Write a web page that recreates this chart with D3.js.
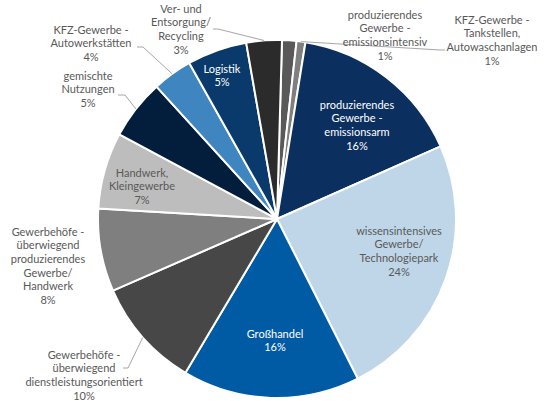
<!DOCTYPE html>
<html>
<head>
<meta charset="utf-8">
<script src="https://cdn.jsdelivr.net/npm/d3@7"></script>
<style>
  body { margin: 0; background: #fff; }
  svg text { font-family: Lato, "Open Sans", sans-serif; font-size: 11px; }
</style>
</head>
<body>
<svg width="555" height="401"></svg>
<script>
// categories, clockwise starting just right of 12 o'clock
var categories = [
  "produzierendes Gewerbe - emissionsintensiv",
  "KFZ-Gewerbe - Tankstellen, Autowaschanlagen",
  "produzierendes Gewerbe - emissionsarm",
  "wissensintensives Gewerbe/ Technologiepark",
  "Großhandel",
  "Gewerbehöfe - überwiegend dienstleistungsorientiert",
  "Gewerbehöfe - überwiegend produzierendes Gewerbe/ Handwerk",
  "Handwerk, Kleingewerbe",
  "gemischte Nutzungen",
  "KFZ-Gewerbe - Autowerkstätten",
  "Logistik",
  "Ver- und Entsorgung/ Recycling"
];
// share in percent
var shares = [1.3, 0.8, 15.8, 24.2, 16.0, 9.9, 7.5, 6.9, 5.4, 3.6, 5.4, 3.2];
// label text lines (as wrapped in the original)
var labelLines = [
  ["produzierendes", "Gewerbe -", "emissionsintensiv"],
  ["KFZ-Gewerbe -", "Tankstellen,", "Autowaschanlagen"],
  ["produzierendes", "Gewerbe -", "emissionsarm"],
  ["wissensintensives", "Gewerbe/", "Technologiepark"],
  ["Großhandel"],
  ["Gewerbehöfe -", "überwiegend", "dienstleistungsorientiert"],
  ["Gewerbehöfe -", "überwiegend", "produzierendes", "Gewerbe/", "Handwerk"],
  ["Handwerk,", "Kleingewerbe"],
  ["gemischte", "Nutzungen"],
  ["KFZ-Gewerbe -", "Autowerkstätten"],
  ["Logistik"],
  ["Ver- und", "Entsorgung/", "Recycling"]
];

var colors = ["#595959", "#7f7f7f", "#0b2f5f", "#bfd6e8", "#015aa4", "#474747",
              "#7f7f7f", "#bdbdbd", "#031d3c", "#3f86c1", "#093a6b", "#2b2b2b"];
var textColors = ["#595959", "#595959", "#fff", "#595959", "#fff", "#595959",
                  "#595959", "#595959", "#595959", "#595959", "#fff", "#595959"];

// label layout: first line centre, plus optional leader start point
var labelLayout = [
  {x: 385, y: 15},
  {x: 492, y: 20, leader: [[440, 50], [445, 50]]},
  {x: 357, y: 105},
  {x: 399, y: 231},
  {x: 275, y: 334},
  {x: 84, y: 355, leader: [[128, 368], [123, 368]]},
  {x: 48, y: 232},
  {x: 142, y: 173},
  {x: 88, y: 76, leader: [[125, 95], [118, 95]]},
  {x: 91, y: 30, leader: [[143, 47], [137, 47]]},
  {x: 222, y: 69},
  {x: 181, y: 9, leader: [[218, 29], [213, 29]]}
];

var svg = d3.select("svg"),
    cx = 277, cy = 219, radius = 179,
    lineH = 13.6;

var data = categories.map(function(c, i) {
  return {name: c, value: shares[i], i: i};
});

var pie = d3.pie()
  .sort(null)
  .value(function(d) { return d.value; })
  .startAngle(1.6 * Math.PI / 180)
  .endAngle((1.6 + 360) * Math.PI / 180);

var arc = d3.arc().innerRadius(0).outerRadius(radius);

var g = svg.append("g").attr("transform", "translate(" + cx + "," + cy + ")");
var arcs = pie(data);

g.selectAll("path.slice")
  .data(arcs)
  .enter().append("path")
  .attr("class", "slice")
  .attr("d", arc)
  .attr("fill", function(d) { return colors[d.data.i]; })
  .attr("stroke", "#fff")
  .attr("stroke-width", 2)
  .attr("stroke-linejoin", "round");

// leader lines to the outer edge at the middle of the slice
arcs.forEach(function(a) {
  var lay = labelLayout[a.data.i];
  if (!lay.leader) return;
  var mid = (a.startAngle + a.endAngle) / 2;
  var ex = cx + radius * Math.sin(mid),
      ey = cy - radius * Math.cos(mid);
  var pts = [lay.leader[1], lay.leader[0], [ex, ey]];
  svg.append("path")
    .attr("d", d3.line()(pts))
    .attr("fill", "none")
    .attr("stroke", "#a6a6a6")
    .attr("stroke-width", 1);
});

// labels
arcs.forEach(function(a) {
  var i = a.data.i, lay = labelLayout[i];
  var lines = labelLines[i].concat([Math.round(shares[i]) + "%"]);
  var t = svg.append("text")
    .attr("text-anchor", "middle")
    .attr("fill", textColors[i]);
  lines.forEach(function(l, k) {
    t.append("tspan")
      .attr("x", lay.x)
      .attr("y", lay.y + k * lineH)
      .attr("dy", "0.35em")
      .text(l);
  });
});
</script>
</body>
</html>
